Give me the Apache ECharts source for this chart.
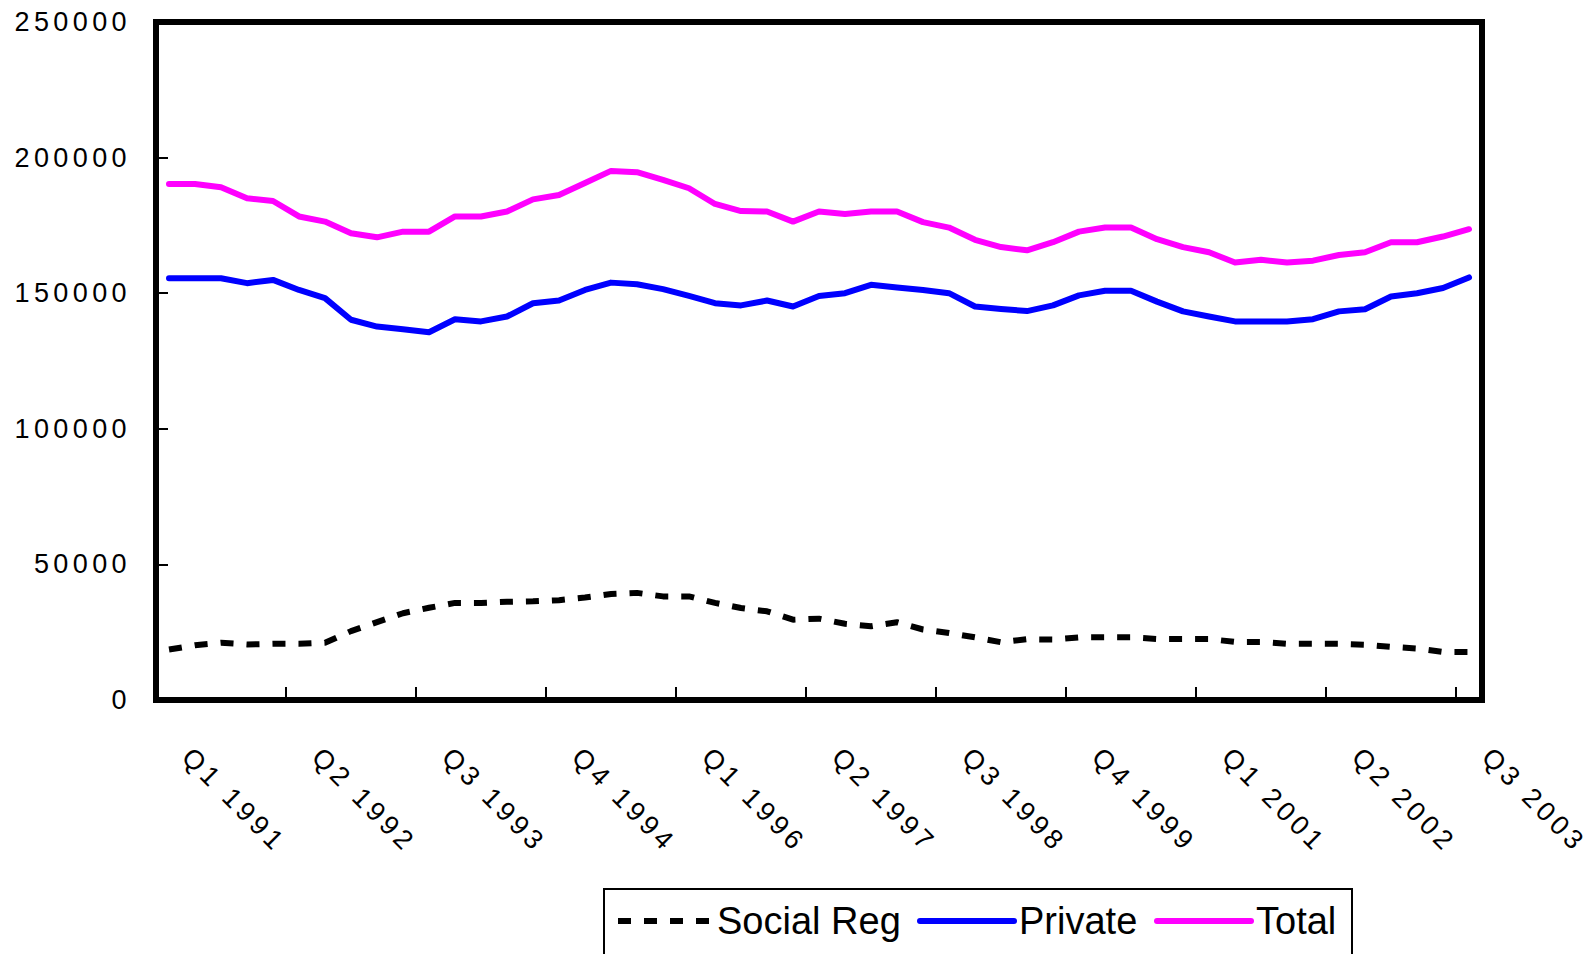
<!DOCTYPE html>
<html>
<head>
<meta charset="utf-8">
<title>Social Reg, Private and Total, quarterly</title>
<script src="https://cdn.jsdelivr.net/npm/echarts@6/dist/echarts.min.js"></script>
<style>
  html, body { margin: 0; padding: 0; background: #fff; }
  #chart { width: 1594px; height: 954px; }
  /* axis labels are set with open tracking */
  #chart text[style*="27px"] { letter-spacing: 4.4px; }
</style>
</head>
<body>
<div id="chart"></div>
<script>
// Quarterly categories, Q1 1991 to Q3 2003
const quarters = [
  'Q1 1991','Q2 1991','Q3 1991','Q4 1991',
  'Q1 1992','Q2 1992','Q3 1992','Q4 1992',
  'Q1 1993','Q2 1993','Q3 1993','Q4 1993',
  'Q1 1994','Q2 1994','Q3 1994','Q4 1994',
  'Q1 1995','Q2 1995','Q3 1995','Q4 1995',
  'Q1 1996','Q2 1996','Q3 1996','Q4 1996',
  'Q1 1997','Q2 1997','Q3 1997','Q4 1997',
  'Q1 1998','Q2 1998','Q3 1998','Q4 1998',
  'Q1 1999','Q2 1999','Q3 1999','Q4 1999',
  'Q1 2000','Q2 2000','Q3 2000','Q4 2000',
  'Q1 2001','Q2 2001','Q3 2001','Q4 2001',
  'Q1 2002','Q2 2002','Q3 2002','Q4 2002',
  'Q1 2003','Q2 2003','Q3 2003'
];

// Series values
const socialReg = [
  18600, 20200, 21100, 20500, 20700, 20700, 21100, 25400, 28700, 32000,
  34000, 35800, 35800, 36200, 36400, 36800, 37800, 39100, 39500, 38200,
  38200, 35800, 33900, 32700, 29600, 30000, 28100, 27200, 28700, 26000,
  24700, 23100, 21300, 22400, 22300, 23100, 23100, 23100, 22500, 22500,
  22500, 21400, 21400, 20700, 20700, 20700, 20400, 19600, 19000, 17700,
  17700
];
const privateSector = [
  155500, 155500, 155500, 153700, 154900, 151200, 148200, 140200, 137700, 136700,
  135600, 140400, 139600, 141400, 146300, 147300, 151200, 153900, 153300, 151500,
  149000, 146300, 145500, 147300, 145100, 149000, 150000, 153100, 152100, 151200,
  150000, 145100, 144200, 143400, 145500, 149200, 150900, 150900, 146900, 143300,
  141400, 139600, 139600, 139600, 140400, 143300, 144100, 148800, 150000, 151900,
  155800
];
const total = [
  190300, 190300, 189100, 185000, 184000, 178300, 176400, 172100, 170600, 172700,
  172700, 178300, 178300, 180100, 184600, 186200, 190600, 195100, 194600, 191800,
  188700, 182900, 180300, 180100, 176400, 180100, 179200, 180100, 180100, 176200,
  174200, 169700, 167000, 165800, 168800, 172700, 174200, 174200, 169900, 167000,
  165100, 161300, 162300, 161300, 162000, 164100, 165100, 168800, 168800, 170900,
  173600
];

// Value axis ticks
const yTicks = [0, 50000, 100000, 150000, 200000, 250000];

const FONT = 'Liberation Sans, Arial, sans-serif';

const chart = echarts.init(document.getElementById('chart'), null, { renderer: 'svg' });

chart.setOption({
  animation: false,
  backgroundColor: '#ffffff',
  grid: {
    left: 156,
    top: 22,
    width: 1326,
    height: 678,
    show: true,
    borderColor: '#000000',
    borderWidth: 6,
    backgroundColor: 'transparent'
  },
  xAxis: {
    type: 'category',
    data: quarters,
    boundaryGap: true,
    axisLine: { show: false },
    axisTick: {
      show: true,
      inside: true,
      length: 13,
      interval: 4,
      lineStyle: { color: '#000000', width: 2 }
    },
    axisLabel: {
      interval: 4,
      rotate: -45,
      margin: 35,
      padding: [0, 0, 0, 25],
      fontFamily: FONT,
      fontSize: 27,
      color: '#000000'
    },
    splitLine: { show: false }
  },
  yAxis: {
    type: 'value',
    min: yTicks[0],
    max: yTicks[yTicks.length - 1],
    interval: yTicks[1] - yTicks[0],
    axisLine: { show: false },
    axisTick: {
      show: true,
      inside: true,
      length: 12,
      lineStyle: { color: '#000000', width: 2 }
    },
    axisLabel: {
      margin: 25,
      fontFamily: FONT,
      fontSize: 27,
      color: '#000000',
      formatter: v => String(v)
    },
    splitLine: { show: false }
  },
  legend: {
    left: 604,
    top: 889,
    orient: 'horizontal',
    padding: [12, 6, 40, 11],
    itemGap: 5,
    itemWidth: 94,
    itemHeight: 14,
    borderColor: '#000000',
    borderWidth: 2,
    backgroundColor: '#ffffff',
    // legend keys are plain line samples, no marker dot
    itemStyle: { color: 'transparent', borderWidth: 0, opacity: 0 },
    lineStyle: { width: 6 },
    textStyle: { fontFamily: FONT, fontSize: 38, color: '#000000', lineHeight: 40 },
    data: [
      { name: 'Social Reg', textStyle: { width: 195 } },
      { name: 'Private', textStyle: { width: 130 } },
      { name: 'Total', textStyle: { width: 90 } }
    ]
  },
  series: [
    {
      name: 'Social Reg',
      type: 'line',
      data: socialReg,
      symbol: 'none',
      showSymbol: false,
      smooth: false,
      lineStyle: { color: '#000000', width: 6, type: [13, 13], cap: 'butt' },
      itemStyle: { color: '#000000' },
      z: 3
    },
    {
      name: 'Private',
      type: 'line',
      data: privateSector,
      symbol: 'none',
      showSymbol: false,
      smooth: false,
      lineStyle: { color: '#0000ff', width: 6, cap: 'round', join: 'round' },
      itemStyle: { color: '#0000ff' },
      z: 4
    },
    {
      name: 'Total',
      type: 'line',
      data: total,
      symbol: 'none',
      showSymbol: false,
      smooth: false,
      lineStyle: { color: '#ff00ff', width: 6, cap: 'round', join: 'round' },
      itemStyle: { color: '#ff00ff' },
      z: 5
    }
  ]
});
</script>
</body>
</html>
